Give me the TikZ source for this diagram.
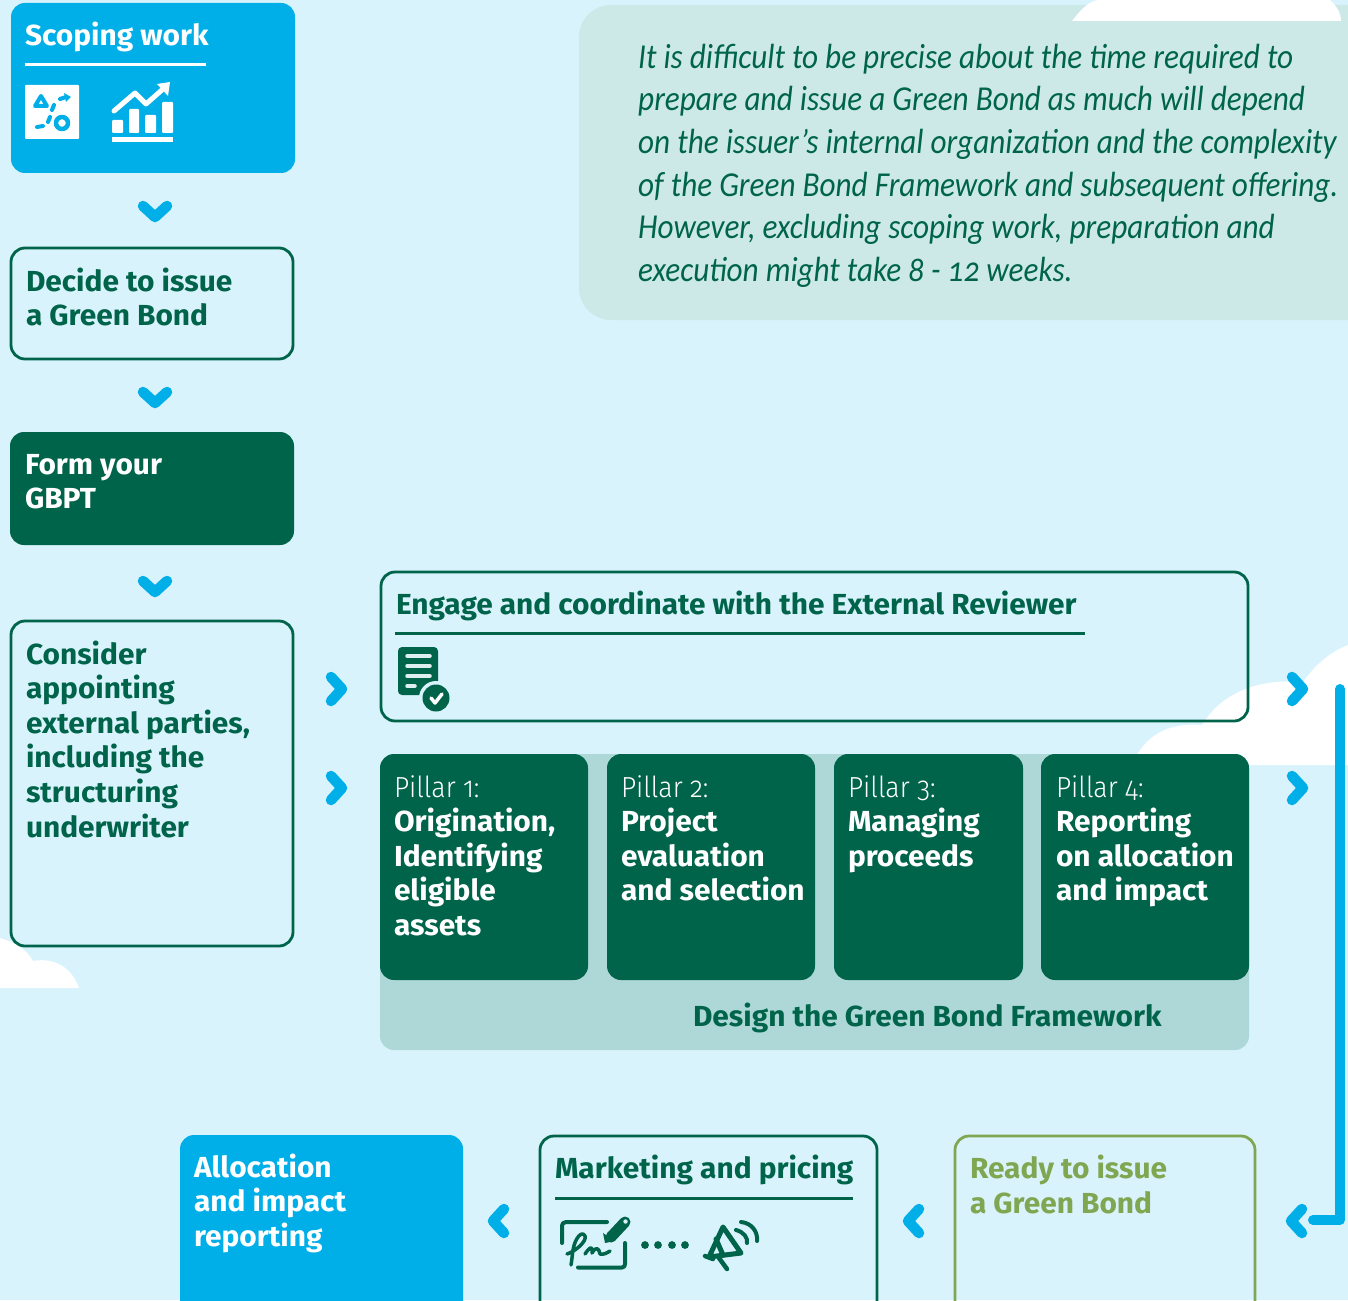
\documentclass[tikz,border=0pt]{standalone}
\usepackage{fontspec}
\setmainfont{Fira Sans}[Numbers=OldStyle,BoldFeatures={FakeStretch=1.03}]
\newfontfamily\lightf{Fira Sans Light}[Numbers=OldStyle,FakeStretch=0.92]
\newfontfamily\notef{Carlito}[Numbers=OldStyle,FakeStretch=0.892]
\definecolor{bgc}{HTML}{D9F3FD}
\definecolor{dkg}{HTML}{00644A}
\definecolor{blu}{HTML}{00AEE8}
\definecolor{notec}{HTML}{CCE9E8}
\definecolor{framec}{HTML}{AED8D8}
\definecolor{oli}{HTML}{7FA650}
\tikzset{
  x=1pt,y=-1pt,
  card/.style={anchor=north west,inner sep=0pt,outer sep=0pt,rounded corners=14pt,minimum width=#1},
  linecard/.style={card=#1,draw=dkg,line width=2.8pt,fill=none},
  lab/.style={anchor=north west,inner sep=0pt,outer sep=0pt,align=left,font=\fontsize{29}{34.6}\selectfont\bfseries,text=dkg},
  chev/.style={draw=blu,line width=10.5pt,line cap=round,line join=round},
  rulel/.style={line width=3pt,draw=dkg},
  ico/.style={draw=dkg,line width=3.5pt,line cap=round,line join=round},
  icow/.style={draw=blu,line width=3.5pt,line cap=round,line join=round},
}
\newcommand{\tp}{\rule{0pt}{1em}}
\newcommand{\chevd}[1]{\draw[chev] ([shift={(-12,-5)}]#1) -- ([shift={(0,6)}]#1) -- ([shift={(12,-5)}]#1);}
\newcommand{\chevr}[1]{\draw[chev] ([shift={(-5,-12)}]#1) -- ([shift={(6,0)}]#1) -- ([shift={(-5,12)}]#1);}
\newcommand{\chevl}[1]{\draw[chev] ([shift={(5,-12)}]#1) -- ([shift={(-6,0)}]#1) -- ([shift={(5,12)}]#1);}
\begin{document}
\begin{tikzpicture}
\clip (0,0) rectangle (1348,1300);
\fill[bgc] (0,0) rectangle (1348,1300);
% note
\node[anchor=north west,inner sep=0pt,outer sep=0pt,fill=notec,rounded corners=32pt,minimum width=830pt,minimum height=315pt] (note) at (579,5) {};
% clouds
\fill[white] (1072,21) .. controls (1082,8) and (1090,0) .. (1100,0) -- (1330,0) .. controls (1337,6) and (1341,14) .. (1341,21) -- cycle;
\fill[white] (0,988) -- (0,938) .. controls (15,942) and (27,950) .. (33,961) .. controls (55,957) and (72,968) .. (79,988) -- cycle;
\fill[white] (1132,765) .. controls (1143,738) and (1165,722) .. (1202,725) .. controls (1220,695) and (1255,678) .. (1303,682) .. controls (1315,665) and (1330,652) .. (1348,645) -- (1348,765) -- cycle;
% note text
\node[anchor=north west,inner sep=0pt,align=left,text=dkg,font=\fontsize{35}{42.6}\selectfont\notef\itshape] (notetxt) at (638,33) {\tp It is difficult to be precise about the time required to\\prepare and issue a Green Bond as much will depend\\on the issuer’s internal organization and the complexity\\of the Green Bond Framework and subsequent offering.\\However, excluding scoping work, preparation and\\execution might take 8 - 12 weeks.};
% left column
\node[card=284pt,minimum height=170pt,fill=blu] (scope) at (11,3) {};
\node[lab,text=white] (scopet) at (25,17) {\tp Scoping work};
\coordinate (scopeA) at (25,65); \coordinate (scopeB) at (206,65);
\draw[rulel,draw=white] (scopeA) -- (scopeB);
\node[linecard=282pt,minimum height=111pt] (decide) at (11,248) {};
\node[lab] (decidet) at (26,262) {\tp Decide to issue\\a Green Bond};
\node[card=284pt,minimum height=113pt,fill=dkg] (form) at (10,432) {};
\node[lab,text=white] (formt) at (25,445) {\tp Form your\\GBPT};
\node[linecard=282pt,minimum height=325pt] (consider) at (11,621) {};
\node[lab] (considert) at (26,635) {\tp Consider\\appointing\\external parties,\\including the\\structuring\\underwriter};
% engage
\node[linecard=867pt,minimum height=149pt] (engage) at (381,572) {};
\node[lab] (engaget) at (396,585) {\tp Engage and coordinate with the External Reviewer};
\coordinate (engA) at (395,633); \coordinate (engB) at (1085,633);
\draw[rulel] (engA) -- (engB);
% framework
\node[card=869pt,minimum height=296pt,fill=framec] (frame) at (380,754) {};
\node[lab] (framet) at (693,997) {\tp Design the Green Bond Framework};
\node[card=208pt,minimum height=226pt,fill=dkg] (p1) at (380,754) {};
\node[card=208pt,minimum height=226pt,fill=dkg] (p2) at (607,754) {};
\node[card=189pt,minimum height=226pt,fill=dkg] (p3) at (834,754) {};
\node[card=208pt,minimum height=226pt,fill=dkg] (p4) at (1041,754) {};
\node[lab,text=white] (p1t) at (394,768) {\tp{\lightf\mdseries Pillar 1:}\\Origination,\\Identifying\\eligible\\assets};
\node[lab,text=white] (p2t) at (621,768) {\tp{\lightf\mdseries Pillar 2:}\\Project\\evaluation\\and selection};
\node[lab,text=white] (p3t) at (848,768) {\tp{\lightf\mdseries Pillar 3:}\\Managing\\proceeds};
\node[lab,text=white] (p4t) at (1056,768) {\tp{\lightf\mdseries Pillar 4:}\\Reporting\\on allocation\\and impact};
% bottom
\node[card=283pt,minimum height=190pt,fill=blu] (alloc) at (180,1135) {};
\node[lab,text=white] (alloct) at (194,1148) {\tp Allocation\\and impact\\reporting};
\node[linecard=337pt,minimum height=190pt] (market) at (540,1136) {};
\node[lab] (markett) at (555,1149) {\tp Marketing and pricing};
\coordinate (mkA) at (555,1198); \coordinate (mkB) at (853,1198);
\draw[rulel] (mkA) -- (mkB);
\node[linecard=300pt,minimum height=190pt,draw=oli] (ready) at (955,1136) {};
\node[lab,text=oli] (readyt) at (970,1149.5) {\tp Ready to issue\\a Green Bond};
% chevrons
\foreach \n/\p in {a/{155,211},b/{155,397},c/{155,586}} {\coordinate (cd\n) at (\p); \chevd{cd\n}}
\foreach \n/\p in {a/{336,689},b/{336,788},c/{1297,689},d/{1297,788}} {\coordinate (cr\n) at (\p); \chevr{cr\n}}
\foreach \n/\p in {a/{499,1221},b/{914,1221},c/{1297,1221}} {\coordinate (cl\n) at (\p); \chevl{cl\n}}
% return line
\coordinate (retA) at (1340,689); \coordinate (retB) at (1340,1220); \coordinate (retC) at (1313,1220);
\draw[draw=blu,line width=10pt,line cap=round,line join=round] (retA) -- (retB) -- (retC);
% icon 1
\fill[white,rounded corners=1pt] (25,85) rectangle (79,139);
\draw[icow,line width=4pt] (35,106) -- (47,106) -- (41,96) -- cycle;
\draw[icow,line width=4pt] (60,99) -- (66,97);
\fill[blu] (64,93) -- (71,97) -- (66,102) -- cycle;
\draw[icow,line width=4pt] (54,105) -- (52,110);
\draw[icow,line width=4pt] (50,117) -- (48,122);
\draw[icow,line width=4pt] (43,126) -- (37,127);
\draw[icow,line width=4.5pt] (62,123) circle (6);
% icon 2
\fill[white,rounded corners=1pt] (112,120) rectangle (123,133);
\fill[white,rounded corners=1pt] (129,109) rectangle (139,133);
\fill[white,rounded corners=1pt] (145,115) rectangle (156,133);
\fill[white,rounded corners=1pt] (162,102) rectangle (173,133);
\fill[white] (112,137) rectangle (173,142);
\draw[draw=white,line width=5pt,line cap=round,line join=round] (114,111) -- (135,93) -- (146,104) -- (163,89);
\fill[white] (157,84) -- (170,82) -- (168,96) -- cycle;
% doc icon
\fill[dkg,rounded corners=4pt] (398,647) rectangle (438,695);
\foreach \yy in {656,666,676} \draw[draw=framec!40!white,line width=3.5pt,line cap=round] (407,\yy) -- (430,\yy);
\draw[draw=framec!40!white,line width=3.5pt,line cap=round] (407,686) -- (415,686);
\fill[bgc] (436,698) circle (17);
\fill[dkg] (436,698) circle (13.5);
\draw[draw=white,line width=3.5pt,line cap=round,line join=round] (431,698) -- (435,703) -- (442,694);
% pen + signature icon
\draw[ico,line width=4pt] (607,1222) -- (566,1222) .. controls (563,1222) and (562,1224) .. (562,1226) -- (562,1243);
\draw[ico,line width=4pt] (578,1267.5) -- (622,1267.5) .. controls (624,1267.5) and (625,1266) .. (625,1264) -- (625,1243);
\draw[ico] (567,1254) .. controls (576,1251) and (587,1241) .. (585,1236) .. controls (582,1230) and (575,1238) .. (573,1250) .. controls (572,1256) and (572,1260) .. (571,1265);
\draw[ico] (585,1254) .. controls (589,1248) and (593,1244) .. (592,1253) .. controls (596,1246) and (599,1248) .. (600,1254) .. controls (603,1255) and (607,1253) .. (610,1251);
\draw[draw=dkg,line width=11pt,line cap=round] (611,1237) -- (625,1222);
\fill[dkg] (603,1233) -- (605,1243) -- (615,1241) -- cycle;
\fill[bgc] (625.5,1221.5) circle (2.2);
% dots
\foreach \xx in {645,658,672,685} \fill[dkg] (\xx,1245) circle (3.9);
% megaphone
\draw[ico,line width=5pt] (723,1227) -- (741,1253) -- (709,1257) -- cycle;
\draw[ico,line width=5pt] (716,1239) -- (723,1255);
\draw[ico,line width=4.5pt] (705,1256) -- (713,1259);
\draw[ico,line width=4.5pt] (719,1258) -- (727,1269);
\draw[ico,line width=4pt] (736,1230) .. controls (744,1232) and (748,1238) .. (747,1243);
\draw[ico,line width=4pt] (741,1222) .. controls (752,1223) and (758,1232) .. (757,1241);
\end{tikzpicture}
\end{document}
